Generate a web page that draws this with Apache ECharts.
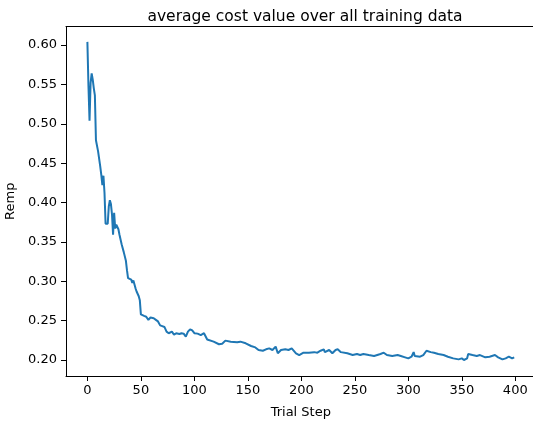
<!DOCTYPE html>
<html>
<head>
<meta charset="utf-8">
<script src="https://cdn.jsdelivr.net/npm/echarts@6/dist/echarts.min.js"></script>
<style>
  html, body { margin: 0; padding: 0; background: #fff; overflow: hidden; }
  #chart { width: 533px; height: 421px; }
</style>
</head>
<body>
<div id="chart"></div>
<script>
// Trial step / cost value
const steps = [
  0, 1, 2, 3, 4, 5, 6, 7, 8, 9, 10, 11, 12, 13, 14, 15, 16, 17, 18, 19,
  20, 21, 22, 23, 24, 25, 26, 27, 28, 29, 30, 32, 34, 36, 37, 38, 39, 41, 42, 43,
  45, 46, 48, 49, 50, 51, 53, 55, 57, 59, 62, 64, 66, 68, 70, 72, 74, 76, 79, 81,
  83, 86, 88, 90, 91, 92, 94, 96, 98, 100, 103, 106, 109, 112, 118, 123, 126, 129, 134, 140,
  143, 148, 153, 157, 160, 164, 167, 170, 173, 176, 178, 181, 185, 188, 191, 195, 198, 202, 207, 212,
  215, 218, 221, 222, 226, 229, 232, 234, 237, 238, 243, 248, 252, 255, 258, 263, 268, 274, 277, 280,
  285, 290, 293, 297, 300, 303, 305, 306, 311, 314, 317, 321, 324, 328, 333, 337, 342, 347, 350, 352,
  355, 356, 360, 364, 367, 372, 376, 381, 384, 388, 391, 394, 397, 399
]
const remp = [
  0.604, 0.548, 0.504, 0.552, 0.564, 0.556, 0.545, 0.536, 0.479, 0.477, 0.465, 0.463, 0.446, 0.435, 0.422, 0.434, 0.412, 0.373, 0.372, 0.373,
  0.395, 0.403, 0.398, 0.385, 0.359, 0.387, 0.367, 0.372, 0.374, 0.366, 0.359, 0.347, 0.337, 0.326, 0.314, 0.304, 0.303, 0.302, 0.298, 0.301,
  0.291, 0.287, 0.281, 0.276, 0.258, 0.256, 0.256, 0.255, 0.251, 0.254, 0.253, 0.251, 0.249, 0.244, 0.243, 0.242, 0.236, 0.234, 0.236, 0.232,
  0.234, 0.233, 0.234, 0.2335, 0.232, 0.2296, 0.236, 0.239, 0.2375, 0.234, 0.2335, 0.2317, 0.234, 0.226, 0.2233, 0.220, 0.2207, 0.2246, 0.2233, 0.2225,
  0.2233, 0.2212, 0.2178, 0.216, 0.2127, 0.2118, 0.2136, 0.2148, 0.2127, 0.217, 0.2085, 0.2127, 0.2136, 0.2127, 0.2148, 0.2085, 0.2063, 0.2093, 0.2093, 0.21,
  0.2093, 0.2118, 0.2136, 0.21, 0.2127, 0.2085, 0.2127, 0.2136, 0.21, 0.2076, 0.2085, 0.2063, 0.2076, 0.2063, 0.2076, 0.2063, 0.2051, 0.2076, 0.2093, 0.2063,
  0.2051, 0.2063, 0.2051, 0.2034, 0.2021, 0.2042, 0.21, 0.2051, 0.2042, 0.2063, 0.2118, 0.21, 0.2093, 0.2076, 0.2063, 0.2042, 0.2021, 0.2008, 0.2021, 0.200,
  0.2021, 0.2076, 0.2063, 0.2051, 0.2063, 0.2034, 0.2042, 0.2063, 0.2034, 0.2008, 0.2021, 0.2042, 0.2021, 0.2034
]
const xTicks = [0, 50, 100, 150, 200, 250, 300, 350, 400]
const yTicks = [0.20, 0.25, 0.30, 0.35, 0.40, 0.45, 0.50, 0.55, 0.60]

const chart = echarts.init(document.getElementById('chart'))
const font = 'DejaVu Sans'

chart.setOption({
  animation: false,
  title: {
    text: 'average cost value over all training data',
    left: 300,
    textAlign: 'center',
    top: 4,
    textStyle: { fontFamily: font, fontSize: 15.5, fontWeight: 'normal', color: '#000' }
  },
  grid: {
    left: 66,
    top: 26.5,
    width: 469.6,   // right spine falls just past the edge, as in the cropped original
    bottom: 45,
    outerBoundsMode: 'none',
    containLabel: false
  },
  xAxis: [{
    type: 'value',
    min: -20,
    max: 419,
    name: 'Trial Step',
    nameLocation: 'middle',
    nameGap: 30,
    nameTextStyle: { fontFamily: font, fontSize: 13, color: '#000' },
    axisLine: { onZero: false, lineStyle: { color: '#000', width: 1 } },
    axisTick: { inside: false, length: 5, customValues: xTicks, lineStyle: { color: '#000' } },
    axisLabel: { customValues: xTicks, margin: 8, fontFamily: font, fontSize: 13, color: '#000' },
    splitLine: { show: false }
  }, {
    // top spine only
    type: 'value',
    position: 'top',
    min: -20,
    max: 419,
    axisLine: { show: true, onZero: false, lineStyle: { color: '#000', width: 1 } },
    axisTick: { show: false },
    axisLabel: { show: false },
    splitLine: { show: false }
  }],
  yAxis: {
    type: 'value',
    min: 0.1797,
    max: 0.6235,
    name: 'Remp',
    nameLocation: 'middle',
    nameRotate: 90,
    nameGap: 43,
    nameTextStyle: { fontFamily: font, fontSize: 13, color: '#000' },
    axisLine: { show: true, onZero: false, lineStyle: { color: '#000', width: 1 } },
    axisTick: { show: true, inside: false, length: 5, customValues: yTicks, lineStyle: { color: '#000' } },
    axisLabel: {
      customValues: yTicks,
      margin: 9,
      fontFamily: font,
      fontSize: 13,
      color: '#000',
      formatter: v => v.toFixed(2)
    },
    splitLine: { show: false }
  },
  series: [{
    type: 'line',
    data: steps.map((s, i) => [s, remp[i]]),
    showSymbol: false,
    lineStyle: { color: '#1f77b4', width: 2 },
    itemStyle: { color: '#1f77b4' }
  }]
})
</script>
</body>
</html>
